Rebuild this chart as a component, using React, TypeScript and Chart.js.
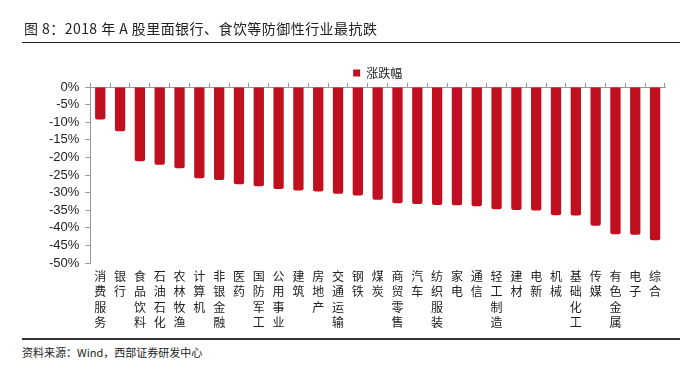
import React, { useEffect, useRef } from "react";
import { Chart, registerables } from "chart.js";

Chart.register(...registerables);

const categories: string[] = [
  "消费服务", "银行", "食品饮料", "石油石化", "农林牧渔", "计算机", "非银金融", "医药",
  "国防军工", "公用事业", "建筑", "房地产", "交通运输", "钢铁", "煤炭", "商贸零售",
  "汽车", "纺织服装", "家电", "通信", "轻工制造", "建材", "电新", "机械",
  "基础化工", "传媒", "有色金属", "电子", "综合",
];

const changePct: number[] = [
  -9.2, -12.6, -21.1, -22.1, -23.1, -25.9, -26.4, -27.6,
  -28.2, -29.0, -29.4, -29.7, -30.3, -30.8, -32.0, -33.0,
  -33.2, -33.5, -33.6, -33.9, -34.7, -34.9, -35.1, -36.4,
  -36.5, -39.4, -41.8, -42.0, -43.5,
];

const seriesName = "涨跌幅";
const titleText = "图 8：2018 年 A 股里面银行、食饮等防御性行业最抗跌";
const sourceText = "资料来源：Wind，西部证券研发中心";

const CJK = '"Noto Sans CJK SC", "Liberation Sans", sans-serif';

function App() {
  const ref = useRef<HTMLCanvasElement | null>(null);

  useEffect(() => {
    if (!ref.current) return;
    const chart = new Chart(ref.current, {
      type: "bar",
      data: {
        labels: categories.map((c) => c.split("")),
        datasets: [
          {
            label: seriesName,
            data: changePct,
            backgroundColor: "#C00F1F",
            borderRadius: 2,
            categoryPercentage: 1,
            barPercentage: 0.52,
            xAxisID: "x",
          },
        ],
      },
      options: {
        responsive: false,
        animation: false,
        layout: { padding: { top: 67, left: 43, right: 15, bottom: 4 } },
        plugins: {
          legend: {
            display: true,
            position: "top",
            fullSize: false,
            maxHeight: 16,
            labels: {
              boxWidth: 7,
              boxHeight: 7,
              padding: 0,
              color: "#222",
              font: { family: CJK, size: 12 },
            },
          },
          tooltip: { enabled: false },
        },
        scales: {
          x: {
            type: "category",
            position: "bottom",
            offset: true,
            grid: { display: false, drawTicks: false },
            border: { display: false },
            ticks: {
              autoSkip: false,
              maxRotation: 0,
              minRotation: 0,
              padding: 6,
              color: "#222",
              font: { family: CJK, size: 12, lineHeight: 1.27 },
            },
          },
          x2: {
            type: "category",
            position: "top",
            labels: categories,
            offset: true,
            grid: {
              display: true,
              offset: true,
              drawOnChartArea: false,
              drawTicks: true,
              tickLength: 4,
              color: "#999",
            },
            border: { display: true, color: "#999", width: 1 },
            ticks: { display: false },
          },
          y: {
            min: -50,
            max: 0,
            grid: {
              display: true,
              drawOnChartArea: false,
              drawTicks: true,
              tickLength: 5,
              color: "#999",
            },
            border: { display: true, color: "#999", width: 1 },
            ticks: {
              stepSize: 5,
              autoSkip: false,
              padding: 6,
              color: "#222",
              font: { family: '"Liberation Sans", Arial, sans-serif', size: 13 },
              callback: (v: any) => `${v}%`,
            },
          },
        },
      },
    });
    return () => chart.destroy();
  }, []);

  return (
    <div
      style={{
        position: "fixed",
        left: 0,
        top: 0,
        width: 680,
        height: 369,
        background: "#fff",
        overflow: "hidden",
      }}
    >
      <canvas
        ref={ref}
        width={680}
        height={340}
        style={{ position: "absolute", left: 0, top: 0, width: 680, height: 340 }}
      />
      <div
        style={{
          position: "absolute",
          left: 24,
          top: 19,
          fontFamily: CJK,
          fontSize: 14,
          letterSpacing: "0.45px",
          lineHeight: "18px",
          color: "#222",
          whiteSpace: "nowrap",
        }}
      >
        {titleText}
      </div>
      <div
        style={{
          position: "absolute",
          left: 22,
          top: 42,
          width: 658,
          height: 1,
          background: "#222",
        }}
      />
      <div
        style={{
          position: "absolute",
          left: 22,
          top: 338,
          width: 658,
          height: 2,
          background: "#333",
        }}
      />
      <div
        style={{
          position: "absolute",
          left: 22,
          top: 345,
          fontFamily: CJK,
          fontSize: 11,
          lineHeight: "14px",
          color: "#222",
          whiteSpace: "nowrap",
        }}
      >
        {sourceText}
      </div>
    </div>
  );
}

export default App;
